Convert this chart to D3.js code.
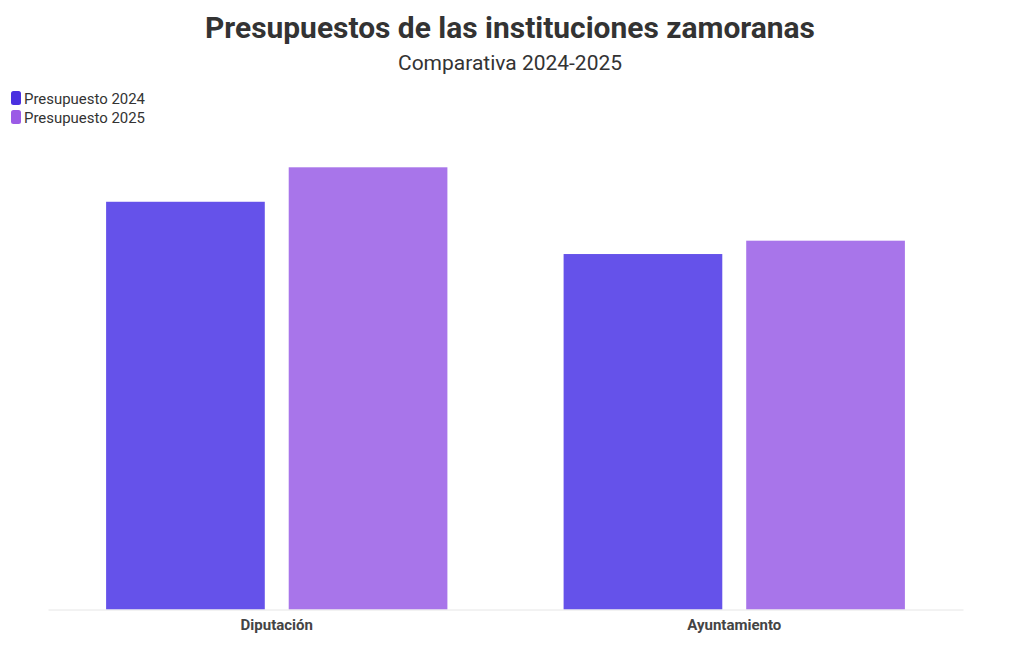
<!DOCTYPE html>
<html><head><meta charset="utf-8">
<script src="https://cdn.jsdelivr.net/npm/d3@7"></script>
<style>body{margin:0;background:#fff}svg{display:block}</style>
</head><body>
<svg id="c" width="1020" height="650"></svg>
<script>
const categories = ["Diputación", "Ayuntamiento"];
const seriesNames = ["Presupuesto 2024", "Presupuesto 2025"];
const values2024 = [110.0, 95.9];
const values2025 = [119.3, 99.5];
const barColors = ["#6552EA", "#A875EA"];
const legendColors = ["#4A30E0", "#9B5BE6"];

const svg = d3.select("#c");
const font = "Roboto, 'Noto Sans', sans-serif";
const left = 48, right = 963, base = 609.5, topY = 167.3;

const data = categories.map((c, i) => ({cat: c, vals: [values2024[i], values2025[i]]}));

const x0 = d3.scaleBand().domain(categories).range([left, right]).paddingInner(0.254).paddingOuter(0.127);
const x1 = d3.scaleBand().domain(seriesNames).range([0, x0.bandwidth()]).paddingInner(0.131);
const y = d3.scaleLinear().domain([0, d3.max([...values2024, ...values2025])]).range([base, topY]);

// title
svg.append("text").attr("x", 510).attr("y", 38).attr("text-anchor", "middle")
  .attr("font-family", font).attr("font-weight", 700).attr("font-size", 29)
  .attr("fill", "#333").attr("textLength", 610).attr("lengthAdjust", "spacingAndGlyphs")
  .text("Presupuestos de las instituciones zamoranas");
svg.append("text").attr("x", 510).attr("y", 70).attr("text-anchor", "middle")
  .attr("font-family", font).attr("font-size", 20)
  .attr("fill", "#333").attr("textLength", 224).attr("lengthAdjust", "spacingAndGlyphs")
  .text("Comparativa 2024-2025");

// legend
const lg = svg.append("g");
seriesNames.forEach((s, i) => {
  lg.append("rect").attr("x", 11).attr("y", 91 + i * 19).attr("width", 10).attr("height", 14)
    .attr("rx", 2.5).attr("fill", legendColors[i]);
  lg.append("text").attr("x", 24).attr("y", 104 + i * 19)
    .attr("font-family", font).attr("font-size", 14.5).attr("fill", "#333")
    .attr("textLength", 121).attr("lengthAdjust", "spacingAndGlyphs").text(s);
});

// bars
const g = svg.append("g");
data.forEach(d => {
  d.vals.forEach((v, j) => {
    g.append("rect")
      .attr("x", x0(d.cat) + x1(seriesNames[j]))
      .attr("y", y(v))
      .attr("width", x1.bandwidth())
      .attr("height", base - y(v))
      .attr("fill", barColors[j]);
  });
});

// axis
const ax = svg.append("g").attr("transform", `translate(0,${base})`)
  .call(d3.axisBottom(x0).tickSize(0).tickPadding(10));
ax.select(".domain").attr("stroke", "#e6e6e6").attr("stroke-width", 1);
ax.selectAll("text").attr("font-family", font).attr("font-weight", 700)
  .attr("font-size", 15).attr("fill", "#444");
</script>
</body></html>
